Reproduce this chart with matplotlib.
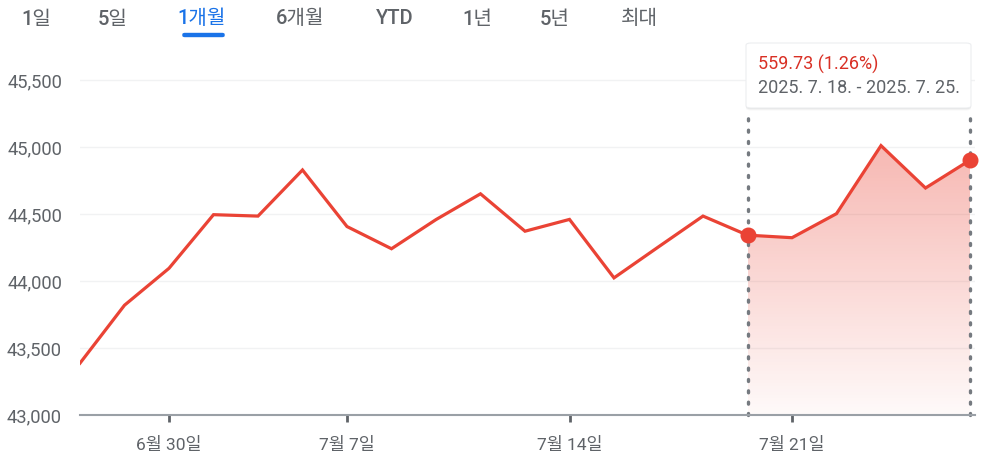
import numpy as np
import matplotlib
matplotlib.use("Agg")
import matplotlib.pyplot as plt
from matplotlib.patches import FancyBboxPatch, Polygon

plt.rcParams['font.family'] = ['Roboto', 'Noto Sans CJK KR', 'DejaVu Sans']

# ---- 데이터 ----
dates = ['6/26', '6/27', '6/30', '7/1', '7/2', '7/3', '7/7', '7/8', '7/9', '7/10',
         '7/11', '7/14', '7/15', '7/16', '7/17', '7/18', '7/21', '7/22', '7/23',
         '7/24', '7/25']
closes = [43386.84, 43819.27, 44094.77, 44494.94, 44484.42, 44828.53, 44406.36,
          44240.76, 44458.30, 44650.64, 44371.51, 44459.65, 44023.29, 44254.78,
          44484.49, 44342.19, 44323.07, 44502.44, 45010.29, 44693.91, 44901.92]
tick_idx = [2, 6, 11, 16]
tick_labels = ['6월 30일', '7월 7일', '7월 14일', '7월 21일']
y_ticks = [43000, 43500, 44000, 44500, 45000, 45500]
tabs = ['1일', '5일', '1개월', '6개월', 'YTD', '1년', '5년', '최대']
tab_x = [36, 113, 202, 300, 395, 477, 555, 639]
sel_start, sel_end = 15, 20
tip_value = '559.73 (1.26%)'
tip_range = '2025. 7. 18. - 2025. 7. 25.'

RED = '#ea4335'
GRAY = '#5f6368'

W, H = 986, 459
fig = plt.figure(figsize=(W / 100, H / 100), dpi=100)
ax = fig.add_axes([80 / W, (H - 415) / H, (975 - 80) / W, (415 - 60) / H])

x = np.arange(len(closes))
y = np.array(closes)

ax.set_xlim(0, 20 + 5 / 44.5)
ax.set_ylim(43000, 43000 + 355 / 0.134)

# 격자
for v in y_ticks[1:]:
    ax.axhline(v, color='#f1f2f3', lw=1, zorder=0)

# 선택 구간 그라데이션 채우기
xs = x[sel_start:sel_end + 1]
ys = y[sel_start:sel_end + 1]
poly = Polygon(np.column_stack([np.r_[xs, xs[-1], xs[0]], np.r_[ys, 43000, 43000]]),
               closed=True, facecolor='none', edgecolor='none')
ax.add_patch(poly)
grad = np.linspace(0.03, 0.38, 256).reshape(-1, 1)
rgba = np.zeros((256, 1, 4))
rgba[..., 0], rgba[..., 1], rgba[..., 2] = 0.918, 0.263, 0.208
rgba[..., 3] = grad
img = ax.imshow(rgba, extent=[xs[0], xs[-1], 43000, ys.max()], origin='lower',
                aspect='auto', zorder=1, interpolation='bilinear')
img.set_clip_path(poly)

# 세로 점선
top_val = 43000 + (415 - 110) / 0.134
for i in (sel_start, sel_end):
    ax.plot([i, i], [43000, top_val], color='#757a80',
            lw=2.4, ls=(0, (0.6, 2.8)), dash_capstyle='round', zorder=2, clip_on=False)

ax.plot(x, y, color=RED, lw=2.3, zorder=3, solid_joinstyle='miter')
ax.plot([sel_start, sel_end], [y[sel_start], y[sel_end]], 'o', color=RED,
        ms=10.5, zorder=4, clip_on=False)

# 축 스타일
for s in ['top', 'right', 'left']:
    ax.spines[s].set_visible(False)
ax.spines['bottom'].set_color('#9aa0a6')
ax.spines['bottom'].set_linewidth(1.5)
ax.set_xticks(tick_idx)
ax.set_xticklabels(tick_labels)
ax.set_yticks(y_ticks)
ax.set_yticklabels([f'{v:,}' for v in y_ticks])
ax.tick_params(axis='x', length=5, width=2, color=GRAY, labelsize=12.5,
               labelcolor=GRAY, pad=11)
ax.tick_params(axis='y', length=0, labelsize=13.2, labelcolor=GRAY, pad=13)
ax.set_facecolor('white')

# 상단 탭
for t, tx in zip(tabs, tab_x):
    c = '#1a73e8' if t == '1개월' else GRAY
    fig.text(tx / W, 1 - 19 / H, t, ha='center', va='center', fontsize=14.5,
             color=c, fontweight='medium')
fig.patches.append(FancyBboxPatch((183 / W, 1 - 36.5 / H), 41 / W, 3 / H,
                                  boxstyle='round,pad=0,rounding_size=0.002',
                                  transform=fig.transFigure, color='#1a73e8',
                                  figure=fig))

# 툴팁
for off, a in [(2.5, 0.03), (1.5, 0.04), (0.7, 0.05)]:
    fig.patches.append(FancyBboxPatch((746 / W, 1 - (108 + off) / H), 225 / W, 65 / H,
                                      boxstyle='round,pad=0,rounding_size=0.005',
                                      transform=fig.transFigure, facecolor='black',
                                      edgecolor='none', alpha=a, figure=fig, zorder=9))
fig.patches.append(FancyBboxPatch((746 / W, 1 - 108 / H), 225 / W, 65 / H,
                                  boxstyle='round,pad=0,rounding_size=0.005',
                                  transform=fig.transFigure, facecolor='white',
                                  edgecolor='#eceef0', lw=0.8, figure=fig, zorder=10))
fig.text(758 / W, 1 - 64 / H, tip_value, ha='left', va='center', fontsize=13,
         color='#d93025', zorder=11)
fig.text(758 / W, 1 - 88 / H, tip_range, ha='left', va='center', fontsize=13,
         color=GRAY, zorder=11)

fig.savefig('out.png', dpi=100)
